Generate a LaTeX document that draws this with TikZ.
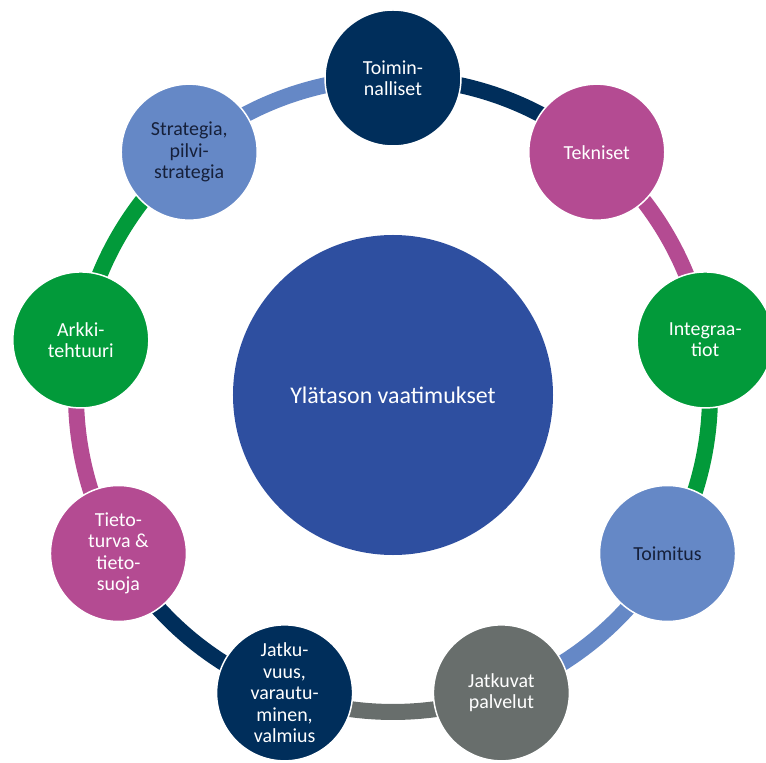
\documentclass[tikz,border=0pt]{standalone}
\usepackage{fontspec}
\setmainfont{Carlito}
\usetikzlibrary{backgrounds}
\definecolor{navy}{HTML}{002E5B}
\definecolor{plum}{HTML}{B44B92}
\definecolor{leaf}{HTML}{029A3A}
\definecolor{sky}{HTML}{6588C6}
\definecolor{slate}{HTML}{686E6C}
\definecolor{core}{HTML}{2E4FA0}
\definecolor{ink}{HTML}{16203A}
\begin{document}
\begin{tikzpicture}[x=1bp, y=1bp]
		\clip (-393,-368) rectangle (373,395);
		\node (A)[circle, fill=core, minimum size=320bp, text=white, font=\fontsize{24}{26}\selectfont] at (0,0) {Ylätason vaatimukset};
		\begin{scope}[every node/.style={circle, draw=white, line width=1.5bp, minimum size=136bp, align=center, text=white, font=\fontsize{20}{21.5}\selectfont}]
			\node (B1)[fill=navy] at (90:317) {Toimin-\\nalliset};
			\node (B2)[fill=plum] at (50:317) {Tekniset};
			\node (B3)[fill=leaf] at (10:317) {Integraa-\\tiot};
			\node (B4)[fill=sky, text=ink] at (-30:317) {Toimitus};
			\node (B5)[fill=slate] at (-70:317) {Jatkuvat\\palvelut};
			\node (B6)[fill=navy] at (-110:317) {Jatku-\\vuus,\\varautu-\\minen,\\valmius};
			\node (B7)[fill=plum] at (-150:317) {Tieto-\\turva \&\\tieto-\\suoja};
			\node (B8)[fill=leaf] at (170:317) {Arkki-\\tehtuuri};
			\node (B9)[fill=sky, text=ink] at (130:317) {Strategia,\\pilvi-\\strategia};
		\end{scope}
		\begin{pgfonlayer}{background}
		\begin{scope}[every edge/.style={draw, line width=16bp, bend left=20, looseness=0.88}]
			\path [-] (B1.center) edge [navy] (B2.center);
			\path [-] (B2.center) edge [plum] (B3.center);
			\path [-] (B3.center) edge [leaf] (B4.center);
			\path [-] (B4.center) edge [sky] (B5.center);
			\path [-] (B5.center) edge [slate] (B6.center);
			\path [-] (B6.center) edge [navy] (B7.center);
			\path [-] (B7.center) edge [plum] (B8.center);
			\path [-] (B8.center) edge [leaf] (B9.center);
			\path [-] (B9.center) edge [sky] (B1.center);
		\end{scope}
		\end{pgfonlayer}
	\end{tikzpicture}
\end{document}
